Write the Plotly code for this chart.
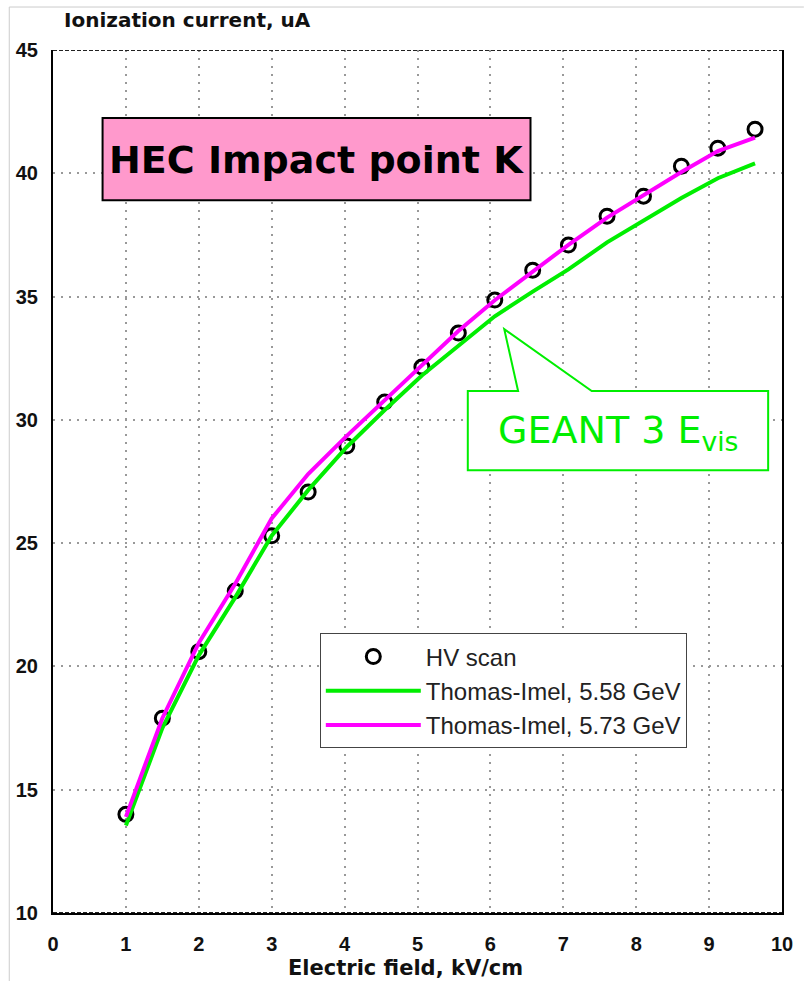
import plotly.graph_objects as go

# HV scan measurements (field in kV/cm, current in uA)
field_kv_cm = [1.0, 1.5, 2.0, 2.5, 3.0, 3.5, 4.03, 4.55, 5.06, 5.56, 6.06, 6.58, 7.07, 7.6, 8.1, 8.62, 9.12, 9.63]
hv_scan_ua = [14.0, 17.9, 20.6, 23.06, 25.3, 27.07, 28.94, 30.72, 32.14, 33.52, 34.86, 36.07, 37.09, 38.26, 39.07, 40.29, 41.02, 41.79]

# Thomas-Imel model curves for two deposited energies
ti_558_ua = [13.55, 17.5, 20.45, 22.8, 25.3, 27.15, 28.9, 30.4, 31.8, 33.0, 34.2, 35.2, 36.1, 37.2, 38.1, 39.0, 39.8, 40.4]
ti_573_ua = [13.9, 17.9, 20.95, 23.35, 26.0, 27.8, 29.35, 30.8, 32.2, 33.6, 34.85, 36.0, 37.1, 38.2, 39.1, 40.05, 40.9, 41.45]

x_ticks = list(range(0, 11))
y_ticks = [10, 15, 20, 25, 30, 35, 40, 45]

GREEN = "#00ee00"
MAGENTA = "#ff00ff"
TICK_FONT = dict(family="Liberation Sans Narrow, Liberation Sans, Arial", size=20, color="#111111", weight="bold")

fig = go.Figure()
fig.add_trace(go.Scatter(
    x=field_kv_cm, y=hv_scan_ua, mode="markers", name="HV scan",
    marker=dict(symbol="circle-open", size=14, color="black", line=dict(width=3, color="black")),
))
fig.add_trace(go.Scatter(
    x=field_kv_cm, y=ti_558_ua, mode="lines", name="Thomas-Imel, 5.58 GeV",
    line=dict(color=GREEN, width=4),
))
fig.add_trace(go.Scatter(
    x=field_kv_cm, y=ti_573_ua, mode="lines", name="Thomas-Imel, 5.73 GeV",
    line=dict(color=MAGENTA, width=4),
))

fig.update_xaxes(
    range=[0, 10], tickvals=x_ticks, ticktext=[str(v) for v in x_ticks],
    showgrid=True, gridcolor="#999999", gridwidth=1.5, griddash="2px,6px",
    showline=True, linecolor="black", linewidth=2, mirror=False,
    zeroline=False, ticks="", tickfont=TICK_FONT, ticklabelstandoff=12,
)
fig.update_yaxes(
    range=[10, 45], tickvals=y_ticks, ticktext=[str(v) for v in y_ticks],
    showgrid=True, gridcolor="#999999", gridwidth=1.5, griddash="2px,6px",
    showline=True, linecolor="black", linewidth=2, mirror=True,
    zeroline=False, ticks="", tickfont=TICK_FONT, ticklabelstandoff=9,
)

shapes = [
    # dashed frame lines at top and bottom of the plotting area
    dict(type="line", xref="x", yref="y", x0=0, x1=10, y0=45, y1=45,
         line=dict(color="#222222", width=2, dash="4px,2px")),
    dict(type="line", xref="x", yref="y", x0=0, x1=10, y0=10, y1=10,
         line=dict(color="#222222", width=2, dash="4px,2px")),
    # title box
    dict(type="rect", xref="x", yref="y", x0=0.68, x1=6.55, y0=38.91, y1=42.24,
         fillcolor="#ff99cc", line=dict(color="black", width=2), layer="above"),
    # callout pointing at the green curve
    dict(type="path", xref="x", yref="y",
         path="M 5.69,31.17 L 6.38,31.17 L 6.19,33.68 L 7.39,31.17 L 9.81,31.17 L 9.81,27.96 L 5.69,27.96 Z",
         fillcolor="white", line=dict(color=GREEN, width=2), layer="above"),
    # outer slide frame
    dict(type="line", xref="paper", yref="paper", x0=-0.06, x1=1.03, y0=1.0498, y1=1.0498,
         line=dict(color="#cccccc", width=1)),
    dict(type="line", xref="paper", yref="paper", x0=-0.06, x1=-0.06, y0=-0.1, y1=1.0498,
         line=dict(color="#cccccc", width=1)),
]

annotations = [
    dict(xref="x", yref="y", x=3.615, y=40.55, text="<b>HEC Impact point K</b>", showarrow=False,
         font=dict(family="DejaVu Sans, Verdana", size=38, color="black")),
    dict(xref="x", yref="y", x=7.75, y=29.5, text="GEANT 3 E<sub>vis</sub>", showarrow=False,
         font=dict(family="DejaVu Sans, Verdana", size=38, color=GREEN)),
    dict(xref="paper", yref="paper", x=0.012, y=1.035, xanchor="left", yanchor="middle",
         text="<b>Ionization current, uA</b>", showarrow=False,
         font=dict(family="DejaVu Sans, Verdana", size=20, color="#111111")),
    dict(xref="paper", yref="paper", x=0.483, y=-0.0637, xanchor="center", yanchor="middle",
         text="<b>Electric field, kV/cm</b>", showarrow=False,
         font=dict(family="DejaVu Sans, Verdana", size=21, color="#111111")),
]

fig.update_layout(
    width=805, height=981,
    margin=dict(l=53, r=15, t=50, b=68),
    paper_bgcolor="white", plot_bgcolor="white",
    shapes=shapes, annotations=annotations,
    showlegend=True,
    legend=dict(
        x=0.366, y=0.324, xanchor="left", yanchor="top",
        bgcolor="white", bordercolor="#444444", borderwidth=1,
        font=dict(family="Liberation Sans, Arial", size=24, color="#222222"),
        itemwidth=95, tracegroupgap=0,
    ),
)

fig.write_html("out.html")
